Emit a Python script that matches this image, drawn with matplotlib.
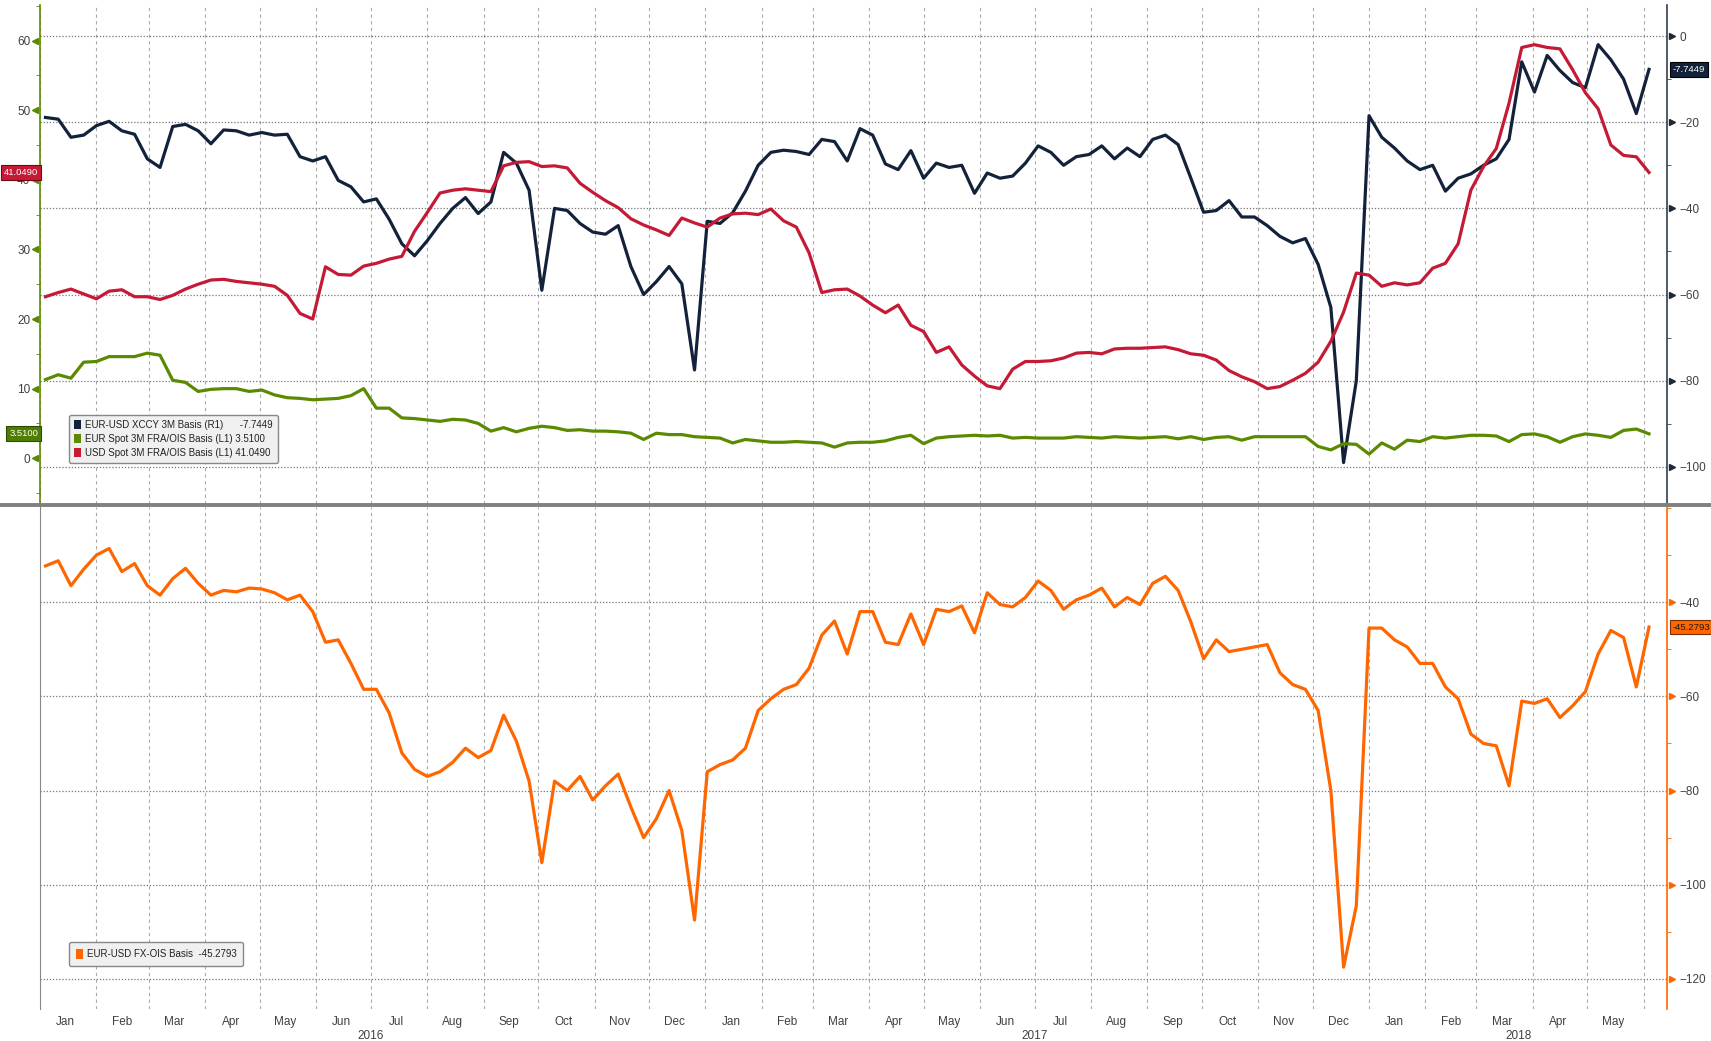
import numpy as np
import pandas as pd
import matplotlib
matplotlib.use("Agg")
import matplotlib.pyplot as plt
import matplotlib.dates as mdates
import matplotlib.transforms as mtransforms
from matplotlib.lines import Line2D
from matplotlib.patches import Patch

# weekly samples
dates = pd.date_range("2016-01-04", periods=127, freq="7D")

# EUR-USD XCCY 3M Basis (R1)
xccy = [-18.9, -19.3, -23.5, -23.0, -20.8, -19.8, -22.0, -22.8, -28.5, -30.5,
        -21.0, -20.5, -22.0, -25.0, -21.8, -22.0, -23.0, -22.4, -23.0, -22.8,
        -28.0, -29.0, -28.0, -33.5, -35.0, -38.5, -37.8, -42.5, -48.2, -51.0,
        -47.5, -43.5, -40.0, -37.5, -41.2, -38.5, -27.0, -29.5, -35.8, -59.0,
        -40.0, -40.5, -43.5, -45.5, -46.0, -44.0, -53.5, -60.0, -57.0, -53.5,
        -57.5, -77.5, -43.0, -43.5, -41.0, -36.0, -30.0, -27.0, -26.5, -26.8,
        -27.5, -24.0, -24.5, -29.0, -21.5, -23.0, -29.7, -31.0, -26.6, -33.0,
        -29.5, -30.5, -30.0, -36.5, -31.8, -33.0, -32.5, -29.5, -25.5, -27.0,
        -30.0, -28.0, -27.5, -25.5, -28.5, -26.0, -28.0, -24.0, -23.0, -25.2,
        -33.0, -40.9, -40.5, -38.2, -42.0, -42.0, -44.0, -46.5, -48.0, -47.0,
        -53.0, -63.0, -99.0, -80.0, -18.5, -23.5, -26.0, -29.0, -31.0, -30.0,
        -36.0, -33.0, -32.0, -30.0, -28.5, -24.0, -6.0, -13.0, -4.5, -8.0,
        -10.8, -12.0, -2.0, -5.5, -10.0, -18.0, -7.7449]

# EUR Spot 3M FRA/OIS Basis (L1)
eur_fra = [11.3, 12.0, 11.5, 13.8, 13.9, 14.6, 14.6, 14.6, 15.1, 14.8,
           11.2, 10.9, 9.6, 9.9, 10.0, 10.0, 9.6, 9.8, 9.1, 8.7,
           8.6, 8.4, 8.5, 8.6, 9.0, 10.0, 7.2, 7.2, 5.8, 5.7,
           5.5, 5.3, 5.6, 5.5, 5.0, 3.9, 4.4, 3.8, 4.3, 4.6,
           4.4, 4.0, 4.1, 3.9, 3.9, 3.8, 3.6, 2.7, 3.6, 3.4,
           3.4, 3.1, 3.0, 2.9, 2.2, 2.7, 2.5, 2.3, 2.3, 2.4,
           2.3, 2.2, 1.6, 2.2, 2.3, 2.3, 2.5, 3.0, 3.3, 2.1,
           2.9, 3.1, 3.2, 3.3, 3.2, 3.3, 2.9, 3.0, 2.9, 2.9,
           2.9, 3.1, 3.0, 2.9, 3.1, 3.0, 2.9, 3.0, 3.1, 2.8,
           3.1, 2.7, 3.0, 3.1, 2.6, 3.1, 3.1, 3.1, 3.1, 3.1,
           1.7, 1.2, 2.1, 2.0, 0.6, 2.2, 1.3, 2.6, 2.4, 3.1,
           2.9, 3.1, 3.3, 3.3, 3.2, 2.4, 3.4, 3.5, 3.1, 2.3,
           3.1, 3.5, 3.3, 3.0, 4.0, 4.2, 3.51]

# USD Spot 3M FRA/OIS Basis (L1)
usd_fra = [23.2, 23.8, 24.3, 23.6, 22.9, 24.0, 24.2, 23.2, 23.2, 22.8,
           23.4, 24.3, 25.0, 25.6, 25.7, 25.4, 25.2, 25.0, 24.7, 23.4,
           20.8, 20.0, 27.5, 26.4, 26.3, 27.6, 28.0, 28.6, 29.0, 32.6,
           35.3, 38.1, 38.5, 38.7, 38.5, 38.3, 42.0, 42.5, 42.6, 41.9,
           42.0, 41.7, 39.5, 38.2, 37.0, 36.0, 34.4, 33.5, 32.8, 32.0,
           34.5, 33.8, 33.2, 34.5, 35.1, 35.2, 35.0, 35.8, 34.1, 33.2,
           29.5, 23.8, 24.2, 24.3, 23.3, 22.0, 20.9, 22.0, 19.1, 18.2,
           15.2, 16.0, 13.4, 11.8, 10.4, 10.0, 12.8, 13.9, 13.9, 14.0,
           14.4, 15.1, 15.2, 15.0, 15.7, 15.8, 15.8, 15.9, 16.0, 15.6,
           15.0, 14.8, 14.1, 12.6, 11.7, 11.0, 10.0, 10.3, 11.2, 12.2,
           13.8, 16.8, 21.0, 26.6, 26.3, 24.7, 25.2, 24.9, 25.2, 27.3,
           28.0, 30.8, 38.5, 41.9, 44.5, 51.0, 59.0, 59.4, 59.0, 58.8,
           55.8, 52.5, 50.2, 45.0, 43.5, 43.3, 41.049]

# EUR-USD FX-OIS Basis
fx_ois = [-32.3, -31.2, -36.5, -33.0, -30.0, -28.6, -33.5, -31.8, -36.5, -38.5,
          -35.0, -32.8, -36.0, -38.5, -37.5, -37.8, -37.0, -37.2, -38.0, -39.5,
          -38.5, -42.0, -48.5, -48.0, -53.0, -58.5, -58.5, -63.5, -72.0, -75.5,
          -77.0, -76.0, -74.0, -71.0, -73.0, -71.5, -64.0, -69.5, -78.0, -95.3,
          -78.0, -80.0, -77.0, -82.0, -79.0, -76.5, -83.5, -90.0, -86.0, -80.0,
          -88.5, -107.5, -76.0, -74.5, -73.5, -71.0, -63.0, -60.5, -58.5, -57.5,
          -54.0, -47.0, -44.0, -51.0, -42.0, -42.0, -48.5, -49.0, -42.5, -49.0,
          -41.5, -42.0, -40.8, -46.5, -38.0, -40.5, -41.0, -39.0, -35.5, -37.5,
          -41.5, -39.5, -38.5, -37.0, -41.0, -39.0, -40.5, -36.0, -34.5, -37.5,
          -44.2, -52.0, -48.0, -50.5, -50.0, -49.5, -49.0, -55.0, -57.5, -58.5,
          -63.0, -80.0, -117.5, -104.5, -45.5, -45.5, -48.0, -49.5, -53.0, -53.0,
          -58.0, -60.5, -68.0, -70.0, -70.5, -79.0, -61.0, -61.5, -60.5, -64.5,
          -62.0, -59.0, -51.0, -46.0, -47.5, -58.0, -45.2793]

left_ticks = [0, 10, 20, 30, 40, 50, 60]
r1_ticks = [-100, -80, -60, -40, -20, 0]
bottom_ticks = [-120, -100, -80, -60, -40]
years = ["2016", "2017", "2018"]

NAVY = "#13223a"
GREEN = "#5b8a00"
RED = "#c41a35"
ORANGE = "#ff6600"
TXT = "#404040"

plt.rcParams["font.family"] = ["Liberation Sans", "DejaVu Sans"]

fig = plt.figure(figsize=(17.11, 10.41), dpi=100)
ax1r = fig.add_axes([0.0234, 0.5159, 0.951, 0.4793])
ax1 = fig.add_axes([0.0234, 0.5159, 0.951, 0.4793], sharex=ax1r)
ax2 = fig.add_axes([0.0234, 0.0307, 0.951, 0.4822], sharex=ax1r)
ax1.patch.set_visible(False)

x0, x1 = pd.Timestamp("2016-01-01"), pd.Timestamp("2018-06-14")

# top panel: R1 behind, L1 on top
ax1r.plot(dates, xccy, color=NAVY, lw=2.3)
ax1.plot(dates, eur_fra, color=GREEN, lw=2.3)
ax1.plot(dates, usd_fra, color=RED, lw=2.3)
ax1.set_ylim(-6.56, 65.1)
ax1r.set_ylim(-108.6, 7.2)
ax1r.set_xlim(x0, x1)

ax1r.yaxis.tick_right()
ax1r.set_yticks(r1_ticks)
ax1r.set_yticks(np.arange(-100, 10, 10), minor=True)
ax1r.tick_params(axis="y", which="major", length=0, pad=9, labelsize=8.5, labelcolor=TXT)
ax1r.tick_params(axis="y", which="minor", length=3, color="#34404c", direction="out")
ax1r.grid(axis="y", which="major", color="#777777", linestyle=(0, (1, 1.5)), lw=0.9)
ax1r.grid(axis="x", which="major", color="#aaaaaa", linestyle=(0, (3, 3)), lw=0.8)
for s in ["left", "top", "bottom"]:
    ax1r.spines[s].set_visible(False)
ax1r.spines["right"].set_color("#34404c")
ax1r.spines["right"].set_linewidth(1.2)
ax1r.plot(np.ones(len(r1_ticks)) + 0.003, r1_ticks, ls="none", marker=">", ms=5,
          color="#1b2838", transform=ax1r.get_yaxis_transform(), clip_on=False)

ax1.set_yticks(left_ticks)
ax1.set_yticks(np.arange(-5, 66, 5), minor=True)
ax1.tick_params(axis="y", which="major", length=0, pad=7, labelsize=8.5, labelcolor=TXT)
ax1.tick_params(axis="y", which="minor", length=3, color=GREEN, direction="out")
for s in ["right", "top", "bottom"]:
    ax1.spines[s].set_visible(False)
ax1.spines["left"].set_color(GREEN)
ax1.spines["left"].set_linewidth(1.2)
ax1.plot(np.zeros(len(left_ticks)) - 0.003, left_ticks, ls="none", marker="<", ms=5,
         color=GREEN, transform=ax1.get_yaxis_transform(), clip_on=False)
ax1.tick_params(axis="x", which="both", length=0, labelbottom=False)
ax1r.tick_params(axis="x", which="both", length=0, labelbottom=False)

# bottom panel
ax2.plot(dates, fx_ois, color=ORANGE, lw=2.3)
ax2.set_ylim(-126.4, -19.8)
ax2.yaxis.tick_right()
ax2.set_yticks(bottom_ticks)
ax2.set_yticks(np.arange(-120, -15, 10), minor=True)
ax2.tick_params(axis="y", which="major", length=0, pad=9, labelsize=8.5, labelcolor=TXT)
ax2.tick_params(axis="y", which="minor", length=3, color=ORANGE, direction="out")
ax2.grid(axis="y", which="major", color="#777777", linestyle=(0, (1, 1.5)), lw=0.9)
ax2.grid(axis="x", which="major", color="#aaaaaa", linestyle=(0, (3, 3)), lw=0.8)
for s in ["top", "bottom"]:
    ax2.spines[s].set_visible(False)
ax2.spines["right"].set_color(ORANGE)
ax2.spines["right"].set_linewidth(1.2)
ax2.spines["left"].set_color("#888888")
ax2.plot(np.ones(len(bottom_ticks)) + 0.003, bottom_ticks, ls="none", marker=">", ms=5,
         color=ORANGE, transform=ax2.get_yaxis_transform(), clip_on=False)

ax2.xaxis.set_major_locator(mdates.MonthLocator())
ax2.xaxis.set_major_formatter(plt.NullFormatter())
ax2.xaxis.set_minor_locator(mdates.MonthLocator(bymonthday=15))
ax2.xaxis.set_minor_formatter(mdates.DateFormatter("%b"))
ax2.tick_params(axis="x", which="both", length=0, pad=5, labelsize=8.5, labelcolor=TXT)

ytr = mtransforms.blended_transform_factory(ax2.transData, ax2.transAxes)
year_pos = [pd.Timestamp("2016-07-01"), pd.Timestamp("2017-07-01"),
            pd.Timestamp("2018-01-01") + (x1 - pd.Timestamp("2018-01-01")) / 2]
for yp, yl in zip(year_pos, years):
    ax2.text(yp, -0.054, yl, transform=ytr, ha="center", va="center",
             fontsize=8.5, color=TXT)

# separator between panels
fig.add_artist(Line2D([0, 1], [0.5149, 0.5149], transform=fig.transFigure,
                      color="#808080", lw=2.8))

# value tags
tag = dict(fontsize=6.8, zorder=10, clip_on=False, va="center")
ltr = mtransforms.blended_transform_factory(ax1.transAxes, ax1.transData)
ax1.text(-0.0012, usd_fra[-1], "%.4f" % usd_fra[-1], transform=ltr, ha="right",
         color="white", bbox=dict(boxstyle="square,pad=0.3", fc=RED, ec="#6e0a18", lw=0.8), **tag)
ax1.text(-0.0012, eur_fra[-1], "%.4f" % eur_fra[-1], transform=ltr, ha="right",
         color="white", bbox=dict(boxstyle="square,pad=0.3", fc="#4f7d00", ec="#2d4a00", lw=0.8), **tag)
rtr = mtransforms.blended_transform_factory(ax1r.transAxes, ax1r.transData)
ax1r.text(1.0035, xccy[-1], "%.4f" % xccy[-1], transform=rtr, ha="left",
          color="white", bbox=dict(boxstyle="square,pad=0.3", fc=NAVY, ec="#000000", lw=0.8), **tag)
btr = mtransforms.blended_transform_factory(ax2.transAxes, ax2.transData)
ax2.text(1.0035, fx_ois[-1], "%.4f" % fx_ois[-1], transform=btr, ha="left",
         color="#1a1a1a", bbox=dict(boxstyle="square,pad=0.3", fc=ORANGE, ec="#7a3000", lw=0.8), **tag)

# legends
h_top = [Patch(fc=NAVY, ec="none"), Patch(fc=GREEN, ec="none"), Patch(fc=RED, ec="none")]
lab_top = ["EUR-USD XCCY 3M Basis (R1)      %.4f" % xccy[-1],
           "EUR Spot 3M FRA/OIS Basis (L1) %.4f" % eur_fra[-1],
           "USD Spot 3M FRA/OIS Basis (L1) %.4f" % usd_fra[-1]]
leg = ax1.legend(h_top, lab_top, loc="lower left", bbox_to_anchor=(0.0178, 0.082),
                 fontsize=7, handlelength=0.7, handleheight=1.1, handletextpad=0.4,
                 labelspacing=0.4, borderpad=0.55, fancybox=True, framealpha=1,
                 facecolor="#f0f0f0", edgecolor="#888888", borderaxespad=0)
for t in leg.get_texts():
    t.set_color("#222222")
leg2 = ax2.legend([Patch(fc=ORANGE, ec="none")],
                  ["EUR-USD FX-OIS Basis  %.4f" % fx_ois[-1]],
                  loc="lower left", bbox_to_anchor=(0.0178, 0.0857),
                  fontsize=7, handlelength=0.7, handleheight=1.1, handletextpad=0.4,
                  borderpad=0.7, fancybox=True, framealpha=1,
                  facecolor="#f0f0f0", edgecolor="#888888", borderaxespad=0)
for t in leg2.get_texts():
    t.set_color("#222222")

fig.savefig("out.png", dpi=100)
